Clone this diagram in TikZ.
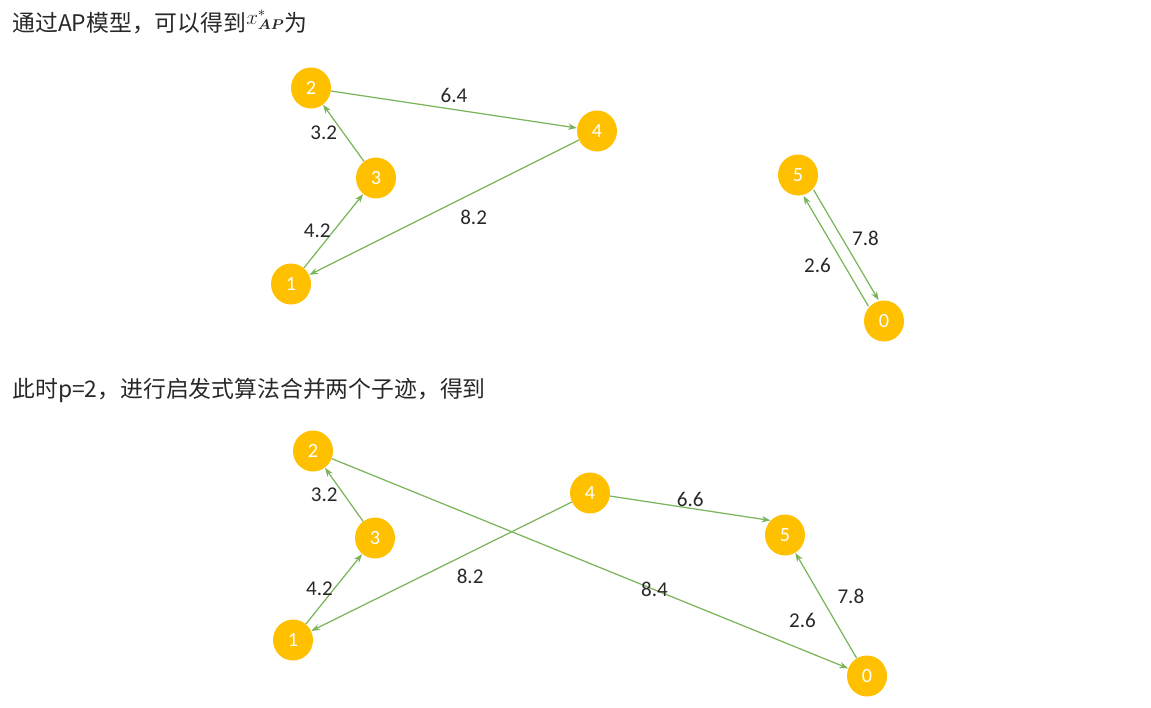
\documentclass[tikz,border=0pt]{standalone}
\usepackage{amsmath}
\usepackage{amssymb}
\usepackage{fontspec}
\setmainfont{Noto Sans CJK SC}
\newfontfamily\numfont{Carlito}
\usetikzlibrary{positioning, arrows.meta, shapes.geometric}
\definecolor{nodegold}{RGB}{255,192,0}
\definecolor{edgegreen}{RGB}{122,180,90}
\definecolor{labelgray}{RGB}{40,40,40}

\begin{document}
\begin{tikzpicture}[x=0.02cm, y=-0.02cm, >={Stealth[length=5pt, width=3.6pt]},
    vertex/.style={ellipse, fill=nodegold, minimum width=0.8cm, minimum height=0.82cm,
        inner sep=0pt, text=white, font=\numfont\fontsize{11.5}{13}\selectfont},
    route/.style={->, draw=edgegreen, line width=0.7pt},
    weight/.style={text=labelgray, font=\numfont\fontsize{12}{14}\selectfont},
    caption/.style={anchor=west, inner sep=0pt, text=labelgray, font=\fontsize{13}{15}\selectfont}]
    \useasboundingbox (0,0) rectangle (1151,707);

    % Captions
    \node[caption] (head1) at (12,22) {通过AP模型，可以得到\raisebox{0.6ex}{\fontsize{11.5}{13}\selectfont$x^{*}_{\boldsymbol{AP}}$}为};
    \node[caption] (head2) at (12,390) {此时p=2，进行启发式算法合并两个子迹，得到};

    % Nodes top (AP solution)
    \node[vertex] (t2) at (311, 88) {2};
    \node[vertex] (t4) at (597, 131) {4};
    \node[vertex] (t3) at (376, 178) {3};
    \node[vertex] (t1) at (291, 284) {1};
    \node[vertex] (t5) at (798, 175) {5};
    \node[vertex] (t0) at (884, 321) {0};

    % Connections top
    \draw[route] (t3) -- node[weight, left] {3.2} (t2);
    \draw[route] (t1) -- node[weight, left=-2pt] {4.2} (t3);
    \draw[route] (t2) -- node[weight, above] {6.4} (t4);
    \draw[route] (t4) -- node[weight, below=6pt, pos=0.39] {8.2} (t1);
    \draw[route, transform canvas={xshift=2.9pt, yshift=1.7pt}] (t5) -- node[weight, right=2pt, pos=0.44] {7.8} (t0);
    \draw[route, transform canvas={xshift=-2.9pt, yshift=-1.7pt}] (t0) -- node[weight, left=4pt, pos=0.37] {2.6} (t5);

    % Nodes bottom (after merging)
    \node[vertex] (b2) at (313, 451) {2};
    \node[vertex] (b3) at (375, 538) {3};
    \node[vertex] (b1) at (293, 640) {1};
    \node[vertex] (b4) at (590, 493) {4};
    \node[vertex] (b5) at (785, 535) {5};
    \node[vertex] (b0) at (867, 676) {0};

    % Connections bottom
    \draw[route] (b3) -- node[weight, left] {3.2} (b2);
    \draw[route] (b1) -- node[weight, left=-3pt] {4.2} (b3);
    \draw[route] (b4) -- node[weight, below=6pt, pos=0.39] {8.2} (b1);
    \draw[route] (b4) -- node[weight, above=-3pt, pos=0.5] {6.6} (b5.135);
    \draw[route] (b2) -- node[weight, pos=0.625] {8.4} (b0);
    \draw[route] (b0) -- node[weight, left=7pt, pos=0.36] {2.6}
        node[weight, right=6pt, pos=0.59] {7.8} (b5);
\end{tikzpicture}
\end{document}
